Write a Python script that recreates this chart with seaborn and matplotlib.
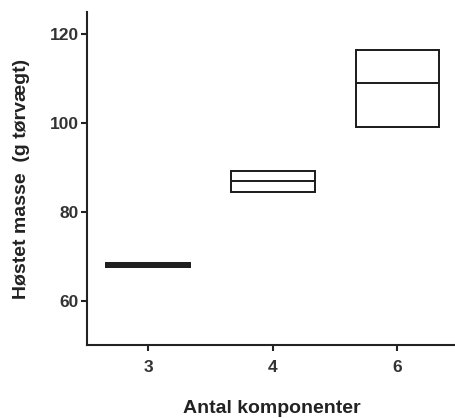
import matplotlib
matplotlib.use("Agg")
import matplotlib.pyplot as plt
import seaborn as sns
import pandas as pd

# box values: bottom, median, top of each box
groups = ["3", "4", "6"]
box_low = [67.6, 84.6, 99.2]
box_median = [68.0, 87.0, 109.0]
box_high = [68.5, 89.2, 116.4]

rows = []
for g, lo, med, hi in zip(groups, box_low, box_median, box_high):
    # five points so the quartiles land on lo/hi and whiskers have zero length
    for v in [lo, lo, med, hi, hi]:
        rows.append({"komponenter": g, "masse": v})
data = pd.DataFrame(rows)

sns.set_style("ticks")
plt.rcParams["font.family"] = ["Liberation Sans", "DejaVu Sans"]

fig = plt.figure(figsize=(4.56, 4.18), dpi=100)
ax = fig.add_axes([0.191, 0.1746, 0.809, 0.796])

sns.boxplot(
    data=data,
    x="komponenter",
    y="masse",
    order=groups,
    width=0.67,
    color="white",
    linecolor="#1a1a1a",
    linewidth=1.4,
    showcaps=False,
    whis=0,
    fliersize=0,
    ax=ax,
)

ax.set_xlim(-0.49, 2.47)
ax.set_ylim(50, 125)
ax.set_yticks([60, 80, 100, 120])

sns.despine(ax=ax)
for side in ["left", "bottom"]:
    ax.spines[side].set_linewidth(1.5)
    ax.spines[side].set_color("#222222")

ax.tick_params(axis="both", width=1.5, length=4, color="#222222",
               labelsize=12.5, pad=2)
ax.tick_params(axis="x", pad=7)
for lab in ax.get_xticklabels() + ax.get_yticklabels():
    lab.set_fontweight("bold")
    lab.set_color("#333333")

ax.set_xlabel("Antal komponenter", fontsize=14, fontweight="bold",
              labelpad=18, color="#222222")
ax.set_ylabel("Høstet masse  (g tørvægt)", fontsize=14, fontweight="bold",
              labelpad=14, color="#222222")

plt.savefig("out.png", dpi=100)
